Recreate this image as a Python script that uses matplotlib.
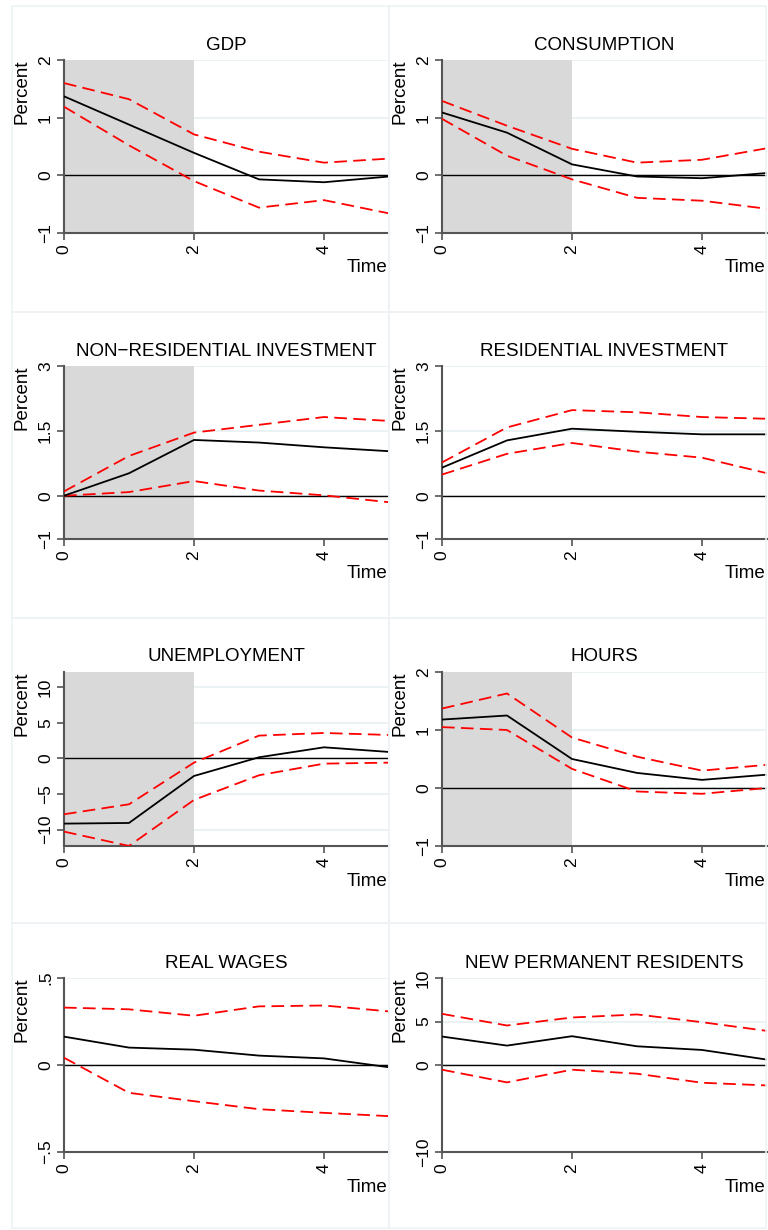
import numpy as np
import matplotlib.pyplot as plt
from matplotlib.patches import Rectangle

plt.rcParams['font.family'] = ['Liberation Sans', 'DejaVu Sans']

# impulse responses, horizons 0..5
horizon = [0, 1, 2, 3, 4, 5]

titles = ["GDP", "CONSUMPTION",
          "NON\u2212RESIDENTIAL INVESTMENT", "RESIDENTIAL INVESTMENT",
          "UNEMPLOYMENT", "HOURS",
          "REAL WAGES", "NEW PERMANENT RESIDENTS"]

gdp_mean = [1.37, 0.88, 0.39, -0.07, -0.12, -0.02]
gdp_hi = [1.60, 1.32, 0.71, 0.41, 0.22, 0.29]
gdp_lo = [1.19, 0.52, -0.10, -0.56, -0.43, -0.66]

cons_mean = [1.09, 0.74, 0.19, -0.02, -0.05, 0.04]
cons_hi = [1.29, 0.86, 0.46, 0.22, 0.27, 0.47]
cons_lo = [0.98, 0.34, -0.07, -0.39, -0.44, -0.58]

nri_mean = [0.0, 0.52, 1.29, 1.23, 1.12, 1.03]
nri_hi = [0.10, 0.92, 1.46, 1.64, 1.82, 1.73]
nri_lo = [0.0, 0.085, 0.34, 0.12, 0.01, -0.15]

ri_mean = [0.65, 1.28, 1.55, 1.48, 1.42, 1.42]
ri_hi = [0.77, 1.58, 1.98, 1.93, 1.82, 1.78]
ri_lo = [0.49, 0.97, 1.22, 1.02, 0.88, 0.52]

unemp_mean = [-9.16, -9.07, -2.48, 0.14, 1.54, 0.89]
unemp_hi = [-7.85, -6.45, -0.61, 3.18, 3.55, 3.27]
unemp_lo = [-10.28, -12.29, -5.84, -2.38, -0.75, -0.61]

hours_mean = [1.18, 1.25, 0.50, 0.26, 0.14, 0.23]
hours_hi = [1.37, 1.63, 0.87, 0.54, 0.30, 0.40]
hours_lo = [1.05, 1.00, 0.33, -0.06, -0.10, 0.0]

wage_mean = [0.163, 0.10, 0.088, 0.054, 0.038, -0.013]
wage_hi = [0.33, 0.32, 0.283, 0.337, 0.342, 0.308]
wage_lo = [0.042, -0.16, -0.208, -0.254, -0.275, -0.294]

npr_mean = [3.27, 2.23, 3.31, 2.15, 1.73, 0.62]
npr_hi = [5.88, 4.54, 5.46, 5.81, 4.92, 3.92]
npr_lo = [-0.54, -2.0, -0.54, -1.0, -2.04, -2.35]

means = [gdp_mean, cons_mean, nri_mean, ri_mean, unemp_mean, hours_mean, wage_mean, npr_mean]
uppers = [gdp_hi, cons_hi, nri_hi, ri_hi, unemp_hi, hours_hi, wage_hi, npr_hi]
lowers = [gdp_lo, cons_lo, nri_lo, ri_lo, unemp_lo, hours_lo, wage_lo, npr_lo]

yticks = [[-1, 0, 1, 2], [-1, 0, 1, 2],
          [-1, 0, 1.5, 3], [-1, 0, 1.5, 3],
          [-10, -5, 0, 5, 10], [-1, 0, 1, 2],
          [-0.5, 0, 0.5], [-10, 0, 5, 10]]
ytick_labels = [["\u22121", "0", "1", "2"], ["\u22121", "0", "1", "2"],
                ["\u22121", "0", "1.5", "3"], ["\u22121", "0", "1.5", "3"],
                ["\u221210", "\u22125", "0", "5", "10"], ["\u22121", "0", "1", "2"],
                ["\u2212.5", "0", ".5"], ["\u221210", "0", "5", "10"]]
ylims = [(-1, 2), (-1, 2), (-1, 3), (-1, 3), (-12.3, 12.1), (-1, 2), (-0.5, 0.5), (-10, 10)]
shaded = [True, True, True, False, True, True, False, False]

W, H = 768, 1230
fig = plt.figure(figsize=(W / 100, H / 100), dpi=100)
fig.patch.set_facecolor('white')

col_left = [64, 442]
col_right = [389, 767]
row_top = [60, 366, 672, 978]
row_bottom = [233, 539, 846, 1152]
panel_x = [(12, 389), (389, 766)]
panel_y = [(6, 312), (312, 618), (618, 923), (923, 1228)]

grid_col = '#e8f0f2'
axis_col = '#555555'

for i in range(8):
    r, c = divmod(i, 2)

    # faint frame around each sub-graph
    px0, px1 = panel_x[c]
    py0, py1 = panel_y[r]
    fig.add_artist(Rectangle((px0 / W, 1 - py1 / H), (px1 - px0) / W, (py1 - py0) / H,
                             transform=fig.transFigure, fill=False,
                             edgecolor='#edf3f5', lw=1.2))

    l, t, rr, b = col_left[c], row_top[r], col_right[c], row_bottom[r]
    ax = fig.add_axes([l / W, 1 - b / H, (rr - l) / W, (b - t) / H])

    for yv in yticks[i]:
        ax.axhline(yv, color=grid_col, lw=1.2, zorder=0)
    if shaded[i]:
        ax.axvspan(0, 2, color='#d9d9d9', lw=0, zorder=1)
    ax.axhline(0, color='black', lw=1.0, zorder=2)

    ax.plot(horizon, uppers[i], color='red', lw=1.3, dashes=(7, 3.5), zorder=3)
    ax.plot(horizon, lowers[i], color='red', lw=1.3, dashes=(7, 3.5), zorder=3)
    ax.plot(horizon, means[i], color='black', lw=1.3, zorder=4)

    ax.set_xlim(0, 5)
    ax.set_ylim(*ylims[i])
    ax.set_xticks([0, 2, 4])
    ax.set_xticklabels(["0", "2", "4"], rotation=90, fontsize=12.5)
    ax.set_yticks(yticks[i])
    ax.set_yticklabels(ytick_labels[i], rotation=90, va='center', fontsize=12.5)

    ax.spines['top'].set_visible(False)
    ax.spines['right'].set_visible(False)
    ax.spines['left'].set_color(axis_col)
    ax.spines['bottom'].set_color(axis_col)
    ax.spines['left'].set_linewidth(1.5)
    ax.spines['bottom'].set_linewidth(1.5)
    ax.tick_params(color=axis_col, width=1.2, length=5, pad=3)

    ax.annotate(titles[i], xy=(0.5, 1), xycoords='axes fraction',
                xytext=(0, 15), textcoords='offset pixels',
                ha='center', va='center', fontsize=13.5)
    ax.annotate("Percent", xy=(0, 1), xycoords='axes fraction',
                xytext=(-42, 0), textcoords='offset pixels',
                ha='center', va='top', rotation=90, fontsize=13.5)
    ax.annotate("Time", xy=(1, 0), xycoords='axes fraction',
                xytext=(-2, -35), textcoords='offset pixels',
                ha='right', va='center', fontsize=13.5)

fig.savefig('out.png', dpi=100)
